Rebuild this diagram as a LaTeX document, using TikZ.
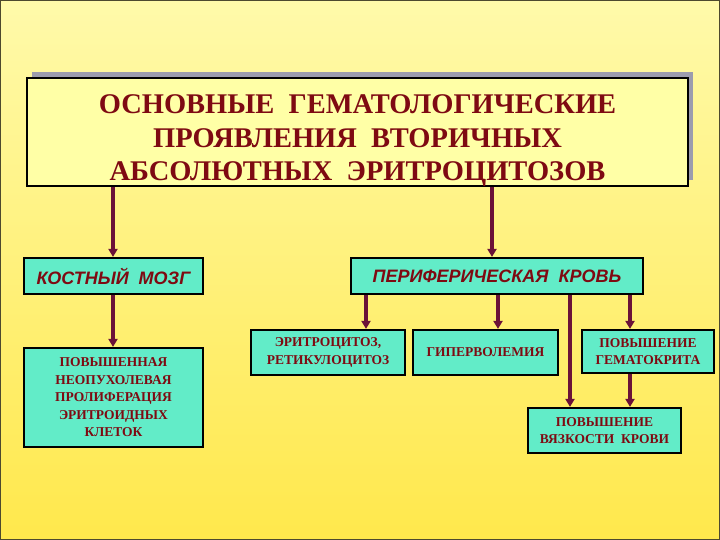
\documentclass[tikz,border=0pt]{standalone}
\usepackage{fontspec}
\setmainfont{Liberation Serif}
\newfontfamily\headfont{Liberation Sans}
\usetikzlibrary{arrows.meta}

\definecolor{slidetop}{HTML}{FFFAAA}
\definecolor{slidebot}{HTML}{FFE84C}
\definecolor{titlefill}{HTML}{FFFFA6}
\definecolor{shadowgray}{HTML}{9C9CAE}
\definecolor{boxfill}{HTML}{62ECC8}
\definecolor{textred}{HTML}{7E0A12}
\definecolor{arrowred}{HTML}{6B1238}

\tikzset{
    box/.style={draw=black, line width=2.2pt, fill=boxfill, align=center,
        inner sep=0pt, text=textred, font=\fontsize{13.5}{17.5}\selectfont\bfseries},
    headbox/.style={box, font=\headfont\fontsize{18}{20}\selectfont\bfseries\itshape},
    arr/.style={draw=arrowred, line width=3.6pt, -{Triangle[width=9pt,length=8pt]}}
}

\begin{document}
\begin{tikzpicture}[x=1pt, y=-1pt]

    % Slide background
    \shade[top color=slidetop, bottom color=slidebot] (0,0) rectangle (720,540);
    \draw[color=black!60!olive, line width=1pt] (0.5,0.5) rectangle (719.5,539.5);
    \useasboundingbox (0,0) rectangle (720,540);

    % Title with shadow
    \fill[shadowgray] (32,72) rectangle (693,180);
    \node[draw=black, line width=2.4pt, fill=titlefill, minimum width=661pt,
        minimum height=108pt, inner sep=0pt] (titlebox) at (357.5,132) {};
    \node[align=center, text=textred, inner sep=0pt,
        font=\fontsize{28.5}{33.5}\selectfont\bfseries] (title) at (357.5,141)
        {ОСНОВНЫЕ~~ГЕМАТОЛОГИЧЕСКИЕ\\ПРОЯВЛЕНИЯ~~ВТОРИЧНЫХ\\АБСОЛЮТНЫХ~~ЭРИТРОЦИТОЗОВ};

    % Bone marrow branch
    \node[headbox, minimum width=179pt, minimum height=36pt] (marrow) at (113.5,276)
        {КОСТНЫЙ~~МОЗГ};
    \node[box, minimum width=179pt, minimum height=99pt] (prolif) at (113.5,397.5)
        {ПОВЫШЕННАЯ\\НЕОПУХОЛЕВАЯ\\ПРОЛИФЕРАЦИЯ\\ЭРИТРОИДНЫХ\\КЛЕТОК};

    % Peripheral blood branch
    \node[headbox, minimum width=292pt, minimum height=36pt] (blood) at (497,276)
        {ПЕРИФЕРИЧЕСКАЯ~~КРОВЬ};
    \node[box, minimum width=154pt, minimum height=45pt] (ery) at (328,352.5)
        {ЭРИТРОЦИТОЗ,\\РЕТИКУЛОЦИТОЗ};
    \node[box, minimum width=145pt, minimum height=45pt] (hyper) at (485.5,352.5)
        {ГИПЕРВОЛЕМИЯ};
    \node[box, minimum width=132pt, minimum height=43pt] (hct) at (648,351.5)
        {ПОВЫШЕНИЕ\\ГЕМАТОКРИТА};
    \node[box, minimum width=153pt, minimum height=45pt] (visc) at (604.5,430.5)
        {ПОВЫШЕНИЕ\\ВЯЗКОСТИ~~КРОВИ};

    % Arrow columns
    \coordinate (c1) at (113,0);
    \coordinate (c2) at (492,0);
    \coordinate (c3) at (366,0);
    \coordinate (c4) at (498,0);
    \coordinate (c5) at (570,0);
    \coordinate (c6) at (630,0);

    % Arrows
    \draw[arr] (titlebox.south -| c1) -- (marrow.north -| c1);
    \draw[arr] (titlebox.south -| c2) -- (blood.north -| c2);
    \draw[arr] (marrow.south -| c1) -- (prolif.north -| c1);
    \draw[arr] (blood.south -| c3) -- (ery.north -| c3);
    \draw[arr] (blood.south -| c4) -- (hyper.north -| c4);
    \draw[arr] (blood.south -| c5) -- (visc.north -| c5);
    \draw[arr] (blood.south -| c6) -- (hct.north -| c6);
    \draw[arr] (hct.south -| c6) -- (visc.north -| c6);

\end{tikzpicture}
\end{document}
